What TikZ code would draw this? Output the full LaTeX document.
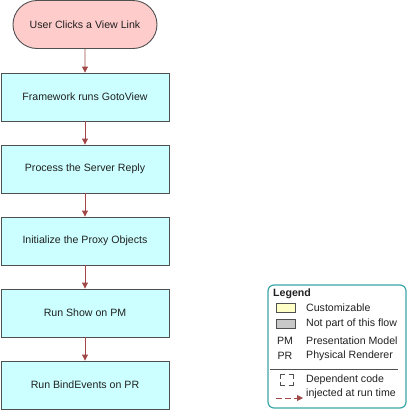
\documentclass[tikz,border=0pt]{standalone}
\usepackage{fontspec}
\setmainfont{Liberation Sans}
\usetikzlibrary{arrows.meta,shapes.misc}
\definecolor{boxfill}{HTML}{CCFFFF}
\definecolor{termfill}{HTML}{FFCCCC}
\definecolor{edgegray}{HTML}{505050}
\definecolor{arrowred}{HTML}{A04848}
\definecolor{legendteal}{HTML}{3AA6A6}
\definecolor{custyellow}{HTML}{FFFFC8}
\definecolor{notgray}{HTML}{C8C8C8}
\definecolor{textgray}{HTML}{202020}
\begin{document}
\begin{tikzpicture}[x=1pt,y=1pt,
  font=\fontsize{10.6}{12}\selectfont, text=textgray,
  procbox/.style={draw=edgegray, fill=boxfill, line width=0.9pt, minimum width=168pt, minimum height=48pt, inner sep=0pt},
  termbox/.style={draw=edgegray, fill=termfill, line width=0.9pt, rounded rectangle, minimum width=144pt, minimum height=48pt, inner sep=0pt},
  flow/.style={draw=arrowred, line width=0.9pt, -{Triangle[length=6pt,width=6pt]}},
  swatch/.style={draw=edgegray, line width=0.8pt, minimum width=19pt, minimum height=9pt, inner sep=0pt},
  legtext/.style={anchor=west, inner sep=0pt},
  bracketline/.style={edgegray, line width=0.9pt}
]
\useasboundingbox (0,0) rectangle (407,-410);
\node[termbox] (t0) at (85,-24.5) {User Clicks a View Link};
\node[procbox] (b1) at (85,-97) {Framework runs GotoView};
\node[procbox] (b2) at (85,-169) {Process the Server Reply};
\node[procbox] (b3) at (85,-241) {Initialize the Proxy Objects};
\node[procbox] (b4) at (85,-313) {Run Show on PM};
\node[procbox] (b5) at (85,-385) {Run BindEvents on PR};
\draw[flow] (t0) -- (b1);
\draw[flow] (b1) -- (b2);
\draw[flow] (b2) -- (b3);
\draw[flow] (b3) -- (b4);
\draw[flow] (b4) -- (b5);
% legend
\node[draw=legendteal, line width=1.2pt, rounded corners=6pt, minimum width=138pt, minimum height=123pt, inner sep=0pt] (leg) at (337,-346.5) {};
\node[legtext, font=\fontsize{10.6}{12}\selectfont\bfseries] (lt) at (273,-294) {Legend};
\node[swatch, fill=custyellow] (s1) at (285.5,-307.5) {};
\node[legtext] (l1) at (306,-308) {Customizable};
\node[swatch, fill=notgray] (s2) at (285.5,-323.5) {};
\node[legtext] (l2) at (306,-324) {Not part of this flow};
\node[inner sep=0pt] (pm) at (285,-341) {PM};
\node[legtext] (l3) at (306,-341) {Presentation Model};
\node[inner sep=0pt] (pr) at (285,-356) {PR};
\node[legtext] (l4) at (306,-356) {Physical Renderer};
\coordinate (ln1) at (270,-369);
\coordinate (ln2) at (398,-369);
\draw[edgegray, line width=0.8pt] (ln1) -- (ln2);
\coordinate (dc) at (286.5,-380);
\draw[bracketline] ([shift={(-6.5,1.5)}]dc) |- ([shift={(-2,5.5)}]dc);
\draw[bracketline] ([shift={(2,5.5)}]dc) -| ([shift={(6.5,1.5)}]dc);
\draw[bracketline] ([shift={(-6.5,-1.5)}]dc) |- ([shift={(-2,-5.5)}]dc);
\draw[bracketline] ([shift={(2,-5.5)}]dc) -| ([shift={(6.5,-1.5)}]dc);
\node[legtext] (l5) at (306,-380) {Dependent code};
\node[legtext] (l6) at (306,-394) {injected at run time};
\coordinate (da1) at (276,-398);
\coordinate (da2) at (303,-398);
\draw[arrowred, line width=0.9pt, dash pattern=on 6pt off 3pt, -{Triangle[length=6pt,width=6pt]}] (da1) -- (da2);
\end{tikzpicture}
\end{document}
